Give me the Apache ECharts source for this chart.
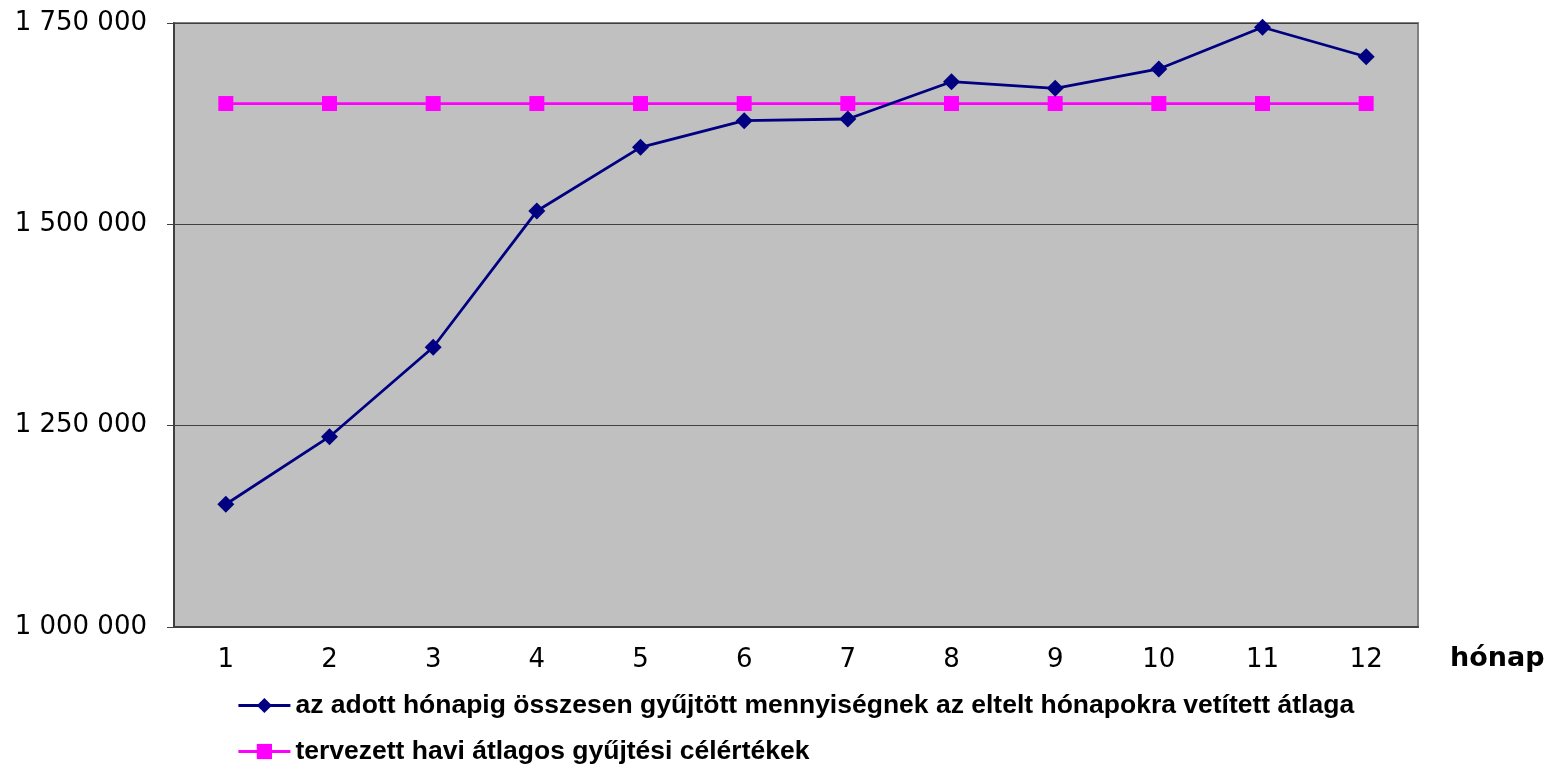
<!DOCTYPE html>
<html lang="hu" style="height: 100%">
<head>
  <meta charset="utf-8">
</head>
<body style="height: 100%; margin: 0; background: #fff">
  <div id="container" style="width: 1551px; height: 766px"></div>

  <script type="text/javascript" src="https://fastly.jsdelivr.net/npm/echarts@6/dist/echarts.min.js"></script>
  <script type="text/javascript">
    var months = ['1', '2', '3', '4', '5', '6', '7', '8', '9', '10', '11', '12'];
    var projectedAvg = [1152400, 1236300, 1347400, 1516500, 1595600, 1628700, 1630800, 1677100, 1668900, 1692900, 1744700, 1708100];
    var plannedAvg = [1650000, 1650000, 1650000, 1650000, 1650000, 1650000, 1650000, 1650000, 1650000, 1650000, 1650000, 1650000];
    var seriesNames = [
      'az adott hónapig összesen gyűjtött mennyiségnek az eltelt hónapokra vetített átlaga',
      'tervezett havi átlagos gyűjtési célértékek'
    ];

    var dom = document.getElementById('container');
    var myChart = echarts.init(dom, null, { renderer: 'canvas' });

    function fmt(v) {
      return String(v).replace(/\B(?=(\d{3})+(?!\d))/g, ' ');
    }

    // one legend per row, like the original
    function legendRow(name, top) {
      return {
        orient: 'horizontal',
        left: 237,
        top: top,
        padding: 0,
        itemWidth: 52,
        itemHeight: 19,
        lineStyle: { width: 2.8 },
        textStyle: {
          fontFamily: 'Liberation Sans',
          fontWeight: 'bold',
          fontSize: 26.5,
          color: '#000'
        },
        data: [name]
      };
    }

    var option = {
      animation: false,
      grid: {
        left: 174,
        top: 23,
        right: 133,
        bottom: 139,
        show: true,
        backgroundColor: '#c0c0c0',
        borderColor: '#808080',
        borderWidth: 2
      },
      legend: [legendRow(seriesNames[0], 692), legendRow(seriesNames[1], 738)],
      xAxis: {
        type: 'category',
        data: months,
        boundaryGap: true,
        name: 'hónap',
        nameLocation: 'end',
        nameGap: 32,
        nameTextStyle: {
          fontFamily: 'DejaVu Sans',
          fontWeight: 'bold',
          fontSize: 27,
          color: '#000',
          verticalAlign: 'top',
          padding: [18, 0, 0, 0]
        },
        axisLine: { lineStyle: { color: '#404040', width: 2 } },
        axisTick: { length: 7, lineStyle: { color: '#000' } },
        axisLabel: {
          margin: 20,
          fontFamily: 'DejaVu Sans',
          fontSize: 26,
          color: '#000'
        },
        splitLine: { show: false }
      },
      yAxis: {
        type: 'value',
        min: 1000000,
        max: 1750000,
        interval: 250000,
        axisLine: { show: true, lineStyle: { color: '#404040', width: 2 } },
        axisTick: { show: true, length: 7, lineStyle: { color: '#404040' } },
        axisLabel: {
          margin: 27,
          fontFamily: 'DejaVu Sans',
          fontSize: 26,
          color: '#000',
          formatter: fmt
        },
        splitLine: { show: true, lineStyle: { color: '#404040', width: 1.2 } }
      },
      series: [
        {
          name: seriesNames[0],
          type: 'line',
          data: projectedAvg,
          symbol: 'diamond',
          symbolSize: 17,
          lineStyle: { color: '#000080', width: 2.8 },
          itemStyle: { color: '#000080' },
          z: 3
        },
        {
          name: seriesNames[1],
          type: 'line',
          data: plannedAvg,
          symbol: 'rect',
          symbolSize: 15,
          lineStyle: { color: '#ff00ff', width: 2.8 },
          itemStyle: { color: '#ff00ff' },
          z: 2
        }
      ]
    };

    myChart.setOption(option);
  </script>
</body>
</html>
